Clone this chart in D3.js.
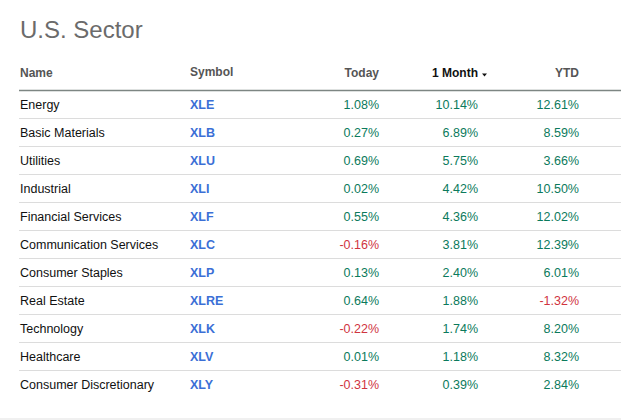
<!DOCTYPE html>
<meta charset="utf-8">
<style>
body { margin: 0; background: #fff; font-family: Arial, "Liberation Sans", sans-serif; }
svg { display: block; }
.title { font-size: 24px; fill: #6b6b6b; }
.head { font-size: 12px; font-weight: bold; fill: #555; }
.head.sorted { fill: #111; }
.cell { font-size: 12.5px; }
.name { fill: #111; }
.sym { fill: #3b6fd6; font-weight: bold; }
.up { fill: #0b7a5c; }
.down { fill: #d0343f; }
</style>
<body>
<script src="https://cdn.jsdelivr.net/npm/d3@7"></script>
<script>

var names = ["Energy", "Basic Materials", "Utilities", "Industrial", "Financial Services",
  "Communication Services", "Consumer Staples", "Real Estate", "Technology", "Healthcare",
  "Consumer Discretionary"];
var symbols = ["XLE", "XLB", "XLU", "XLI", "XLF", "XLC", "XLP", "XLRE", "XLK", "XLV", "XLY"];
var today = [1.08, 0.27, 0.69, 0.02, 0.55, -0.16, 0.13, 0.64, -0.22, 0.01, -0.31];
var month = [10.14, 6.89, 5.75, 4.42, 4.36, 3.81, 2.40, 1.88, 1.74, 1.18, 0.39];
var ytd = [12.61, 8.59, 3.66, 10.50, 12.02, 12.39, 6.01, -1.32, 8.20, 8.32, 2.84];
var headers = ["Name", "Symbol", "Today", "1 Month", "YTD"];

var width = 621, height = 420;

var svg = d3.select("body").append("svg")
    .attr("width", width)
    .attr("height", height);

svg.append("text")
    .attr("class", "title")
    .attr("x", 20)
    .attr("y", 38)
    .text("U.S. Sector");

// row positions
var y = d3.scaleBand()
    .domain(d3.range(names.length))
    .range([90, 90 + 28 * names.length]);

// column anchors: name & symbol left aligned, numbers right aligned
var colX = { name: 20, sym: 190, today: 379, month: 478, ytd: 579 };

var hdr = svg.append("g");
hdr.append("text").attr("class", "head").attr("x", colX.name).attr("y", 77).text(headers[0]);
hdr.append("text").attr("class", "head").attr("x", colX.sym).attr("y", 76).text(headers[1]);
hdr.append("text").attr("class", "head").attr("x", colX.today).attr("y", 77)
    .attr("text-anchor", "end").text(headers[2]);
hdr.append("text").attr("class", "head sorted").attr("x", colX.month).attr("y", 77)
    .attr("text-anchor", "end").text(headers[3]);
hdr.append("path").attr("d", "M482,73.5h5l-2.5,3z").attr("fill", "#111");
hdr.append("text").attr("class", "head").attr("x", colX.ytd).attr("y", 77)
    .attr("text-anchor", "end").text(headers[4]);

svg.append("line")
    .attr("x1", 19).attr("x2", width)
    .attr("y1", 90.5).attr("y2", 90.5)
    .attr("stroke", "#7d8683").attr("stroke-width", 1.5);

var fmt = function(v) { return v.toFixed(2) + "%"; };
var cls = function(v) { return "cell " + (v < 0 ? "down" : "up"); };

var rows = svg.selectAll("g.row")
    .data(d3.range(names.length))
  .enter().append("g")
    .attr("class", "row")
    .attr("transform", function(i) { return "translate(0," + y(i) + ")"; });

rows.filter(function(i) { return i < names.length - 1; })
  .append("line")
    .attr("x1", 19).attr("x2", width)
    .attr("y1", y.bandwidth() + 0.5).attr("y2", y.bandwidth() + 0.5)
    .attr("stroke", "#dcdcdc");

rows.append("text").attr("class", "cell name")
    .attr("x", colX.name).attr("y", 18.5)
    .text(function(i) { return names[i]; });
rows.append("text").attr("class", "cell sym")
    .attr("x", colX.sym).attr("y", 18.5)
    .text(function(i) { return symbols[i]; });
rows.append("text")
    .attr("class", function(i) { return cls(today[i]); })
    .attr("x", colX.today).attr("y", 18.5).attr("text-anchor", "end")
    .text(function(i) { return fmt(today[i]); });
rows.append("text")
    .attr("class", function(i) { return cls(month[i]); })
    .attr("x", colX.month).attr("y", 18.5).attr("text-anchor", "end")
    .text(function(i) { return fmt(month[i]); });
rows.append("text")
    .attr("class", function(i) { return cls(ytd[i]); })
    .attr("x", colX.ytd).attr("y", 18.5).attr("text-anchor", "end")
    .text(function(i) { return fmt(ytd[i]); });

// light band at the bottom of the widget
svg.append("rect")
    .attr("x", 0).attr("y", 418)
    .attr("width", width).attr("height", 2)
    .attr("fill", "#f0f0f0");

</script>
